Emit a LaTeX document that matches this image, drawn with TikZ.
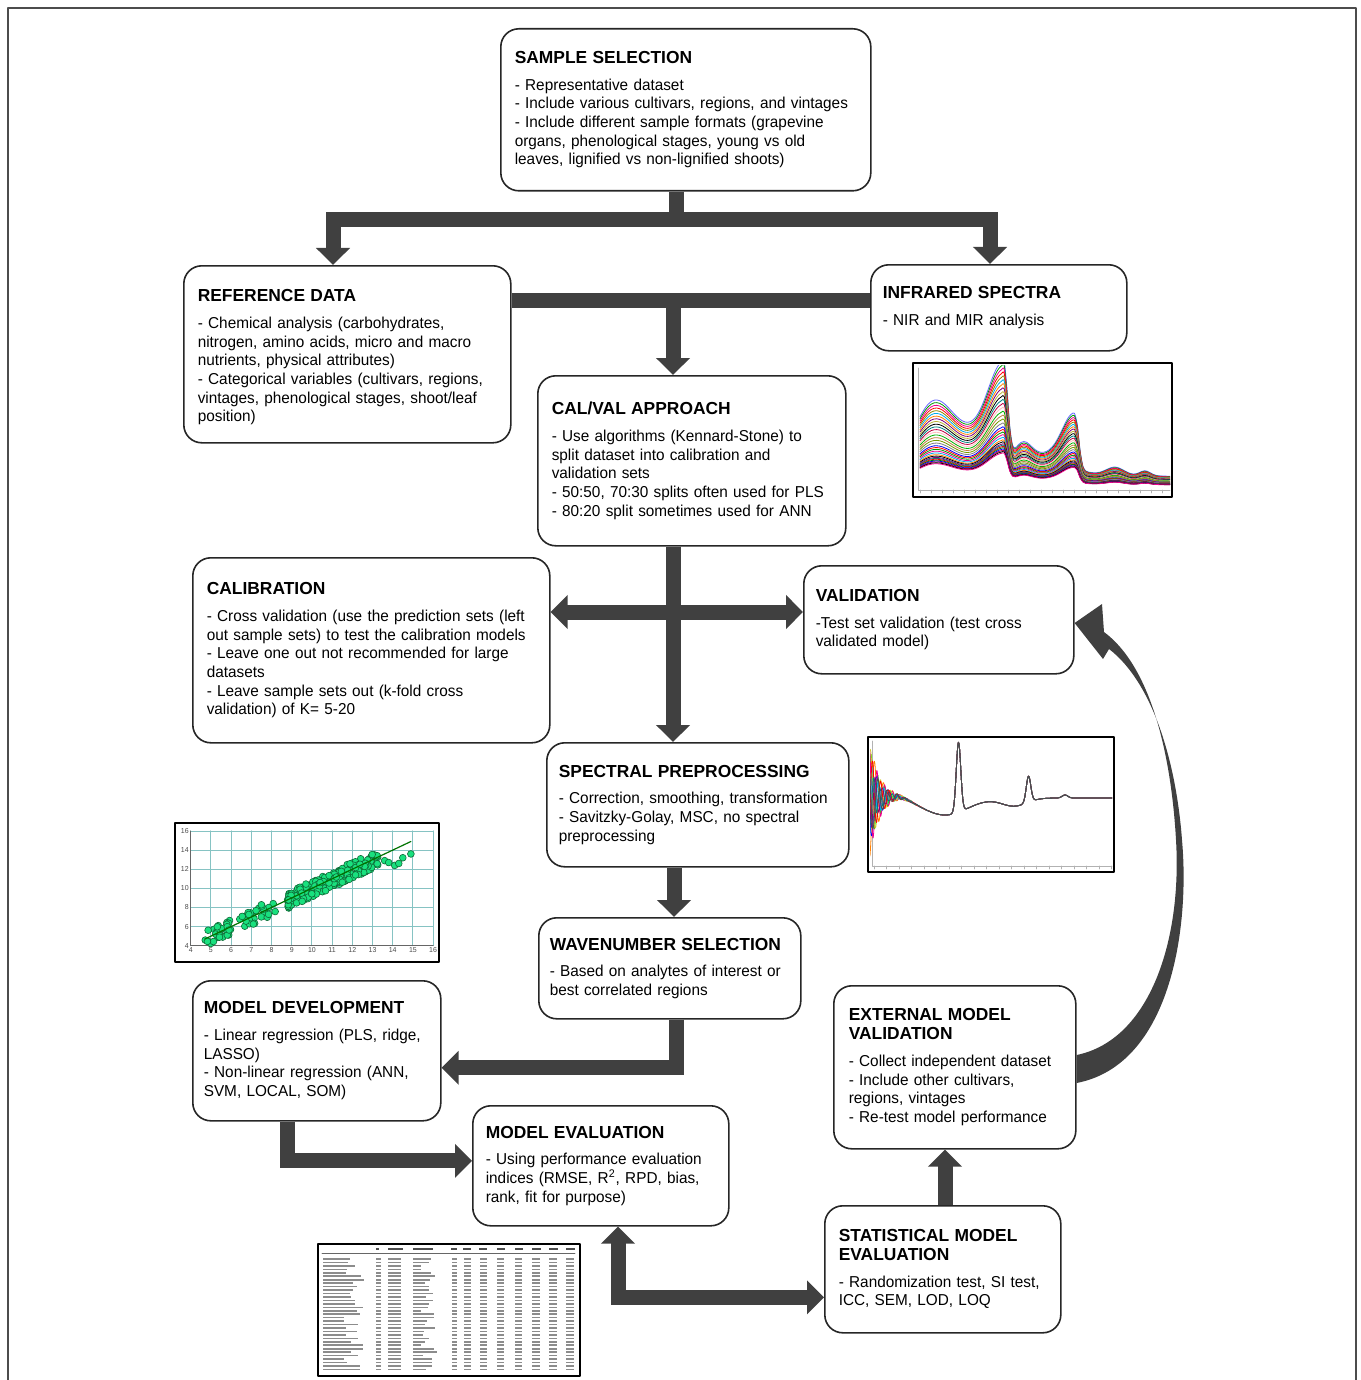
\documentclass[tikz,border=0pt]{standalone}
\usepackage{fontspec}
\setmainfont{Liberation Sans}[FakeStretch=0.97]
\newfontfamily\ttlfont{Liberation Sans}
\usetikzlibrary{arrows.meta,calc,backgrounds}
\definecolor{flowgray}{HTML}{404040}
\definecolor{gridteal}{HTML}{86C3C3}
\definecolor{dotgreen}{HTML}{19E07E}
\definecolor{dotedge}{HTML}{0E6A36}
\newcommand{\ttl}[1]{{\ttlfont\fontsize{8.7}{10}\selectfont\bfseries #1}}

\begin{document}
\begin{tikzpicture}[x=0.5pt, y=-0.5pt, line join=round, line cap=round,
  font=\fontsize{7.9}{9.35}\selectfont,
  stage/.style={draw=black!85, line width=0.8pt, rounded corners=9pt, fill=white,
    align=left, anchor=north west, inner xsep=7pt, inner ysep=0pt},
  bar/.style={draw=flowgray, line width=7.5pt, line cap=butt, line join=miter},
  flow/.style={bar, -{Triangle[width=16.5pt,length=8.5pt]}},
  flowtwo/.style={bar, {Triangle[width=16.5pt,length=8.5pt]}-{Triangle[width=16.5pt,length=8.5pt]}},
  pic/.style={draw=black, line width=1.4pt, fill=white},
  tiny/.style={font=\fontsize{3.6}{4}\selectfont, text=black!70, inner sep=0.8pt},
  dot/.style={fill=dotgreen, draw=dotedge, line width=0.3pt},
  tabink/.style={draw=black!45, line width=0.8pt, line cap=butt}]
\useasboundingbox (0,0) rectangle (1360,1380);
\draw[black!70, line width=0.8pt] (8,1380) -- (8,8) -- (1356,8) -- (1356,1380);

% stages
\node[stage, text width=171pt, minimum height=81pt] (ss) at (500,28)
  {\ttl{SAMPLE SELECTION}\\[4pt]
   - Representative dataset\\
   - Include various cultivars, regions, and vintages\\
   - Include different sample formats (grapevine\\
   organs, phenological stages, young vs old\\
   leaves, lignified vs non-lignified shoots)};
\node[stage, text width=149.5pt, minimum height=88.5pt] (ref) at (183,265)
  {\rule{0pt}{9.2pt}\ttl{REFERENCE DATA}\\[4pt]
   - Chemical analysis (carbohydrates,\\
   nitrogen, amino acids, micro and macro\\
   nutrients, physical attributes)\\
   - Categorical variables (cultivars, regions,\\
   vintages, phenological stages, shoot/leaf\\
   position)};
\node[stage, text width=116pt, minimum height=43pt, inner xsep=6pt] (ir) at (870,264)
  {\ttl{INFRARED SPECTRA}\\[4pt]
   - NIR and MIR analysis};
\node[stage, text width=140pt, minimum height=85pt] (cv) at (537,375)
  {\ttl{CAL/VAL APPROACH}\\[4pt]
   - Use algorithms (Kennard-Stone) to\\
   split dataset into calibration and\\
   validation sets\\
   - 50:50, 70:30 splits often used for PLS\\
   - 80:20 split sometimes used for ANN\\[7pt]};
\node[stage, text width=164.5pt, minimum height=92.5pt] (cal) at (192,557)
  {\ttl{CALIBRATION}\\[4pt]
   - Cross validation (use the prediction sets (left\\
   out sample sets) to test the calibration models\\
   - Leave one out not recommended for large\\
   datasets\\
   - Leave sample sets out (k-fold cross\\
   validation) of K= 5-20};
\node[stage, text width=123pt, minimum height=54pt, inner xsep=6pt] (val) at (803,565)
  {\ttl{VALIDATION}\\[4pt]
   -Test set validation (test cross\\
   validated model)\\[2pt]};
\node[stage, text width=139pt, minimum height=62pt, inner xsep=6pt] (spp) at (546,742)
  {\ttl{SPECTRAL PREPROCESSING}\\[4pt]
   - Correction, smoothing, transformation\\
   - Savitzky-Golay, MSC, no spectral\\
   preprocessing};
\node[stage, text width=120pt, minimum height=50.5pt, inner xsep=5.5pt] (wav) at (538,917)
  {\ttl{WAVENUMBER SELECTION}\\[4pt]
   - Based on analytes of interest or\\
   best correlated regions};
\node[stage, text width=113pt, minimum height=70pt, inner xsep=5.5pt] (md) at (192,980)
  {\ttl{MODEL DEVELOPMENT}\\[4pt]
   - Linear regression (PLS, ridge,\\
   LASSO)\\
   - Non-linear regression (ANN,\\
   SVM, LOCAL, SOM)\\[2pt]};
\node[stage, text width=115pt, minimum height=60pt, inner xsep=6.5pt] (me) at (472,1105)
  {\ttl{MODEL EVALUATION}\\[4pt]
   - Using performance evaluation\\
   indices (RMSE, R\textsuperscript{2}, RPD, bias,\\
   rank, fit for purpose)};
\node[stage, text width=106pt, minimum height=81.5pt, inner xsep=7.5pt] (ext) at (833,985)
  {\ttl{EXTERNAL MODEL}\\\ttl{VALIDATION}\\[4pt]
   - Collect independent dataset\\
   - Include other cultivars,\\
   regions, vintages\\
   - Re-test model performance};
\node[stage, text width=104pt, minimum height=63.5pt] (st) at (824,1205)
  {\ttl{STATISTICAL MODEL}\\\ttl{EVALUATION}\\[4pt]
   - Randomization test, SI test,\\
   ICC, SEM, LOD, LOQ};

% connectors
\begin{scope}[on background layer]
\coordinate (fork) at (676,220);
\draw[bar] (ss.south -| fork) -- (fork);
\draw[flow] (fork) -| ($(ref.north west)+(150,0)$);
\draw[flow] (fork) -| ($(ir.north west)+(120,0)$);
\coordinate (hub) at (673,300);
\draw[bar] (ref.east |- hub) -- (ir.west |- hub);
\draw[flow] (hub) -- (cv.north -| hub);
\coordinate (cross) at (673,612);
\draw[flow] (cv.south -| cross) -- (spp.north -| cross);
\draw[flowtwo] (cal.east |- cross) -- (val.west |- cross);
\draw[flow] ($(spp.south west)+(128,0)$) coordinate (s1) -- (wav.north -| s1);
\draw[flow] ($(wav.south west)+(138,0)$) |- ($(md.east)+(0,17)$);
\draw[flow] ($(md.south west)+(95,0)$) |- ($(me.west)+(0,-5)$);
\draw[flowtwo] ($(me.south west)+(146,0)$) |- ($(st.west)+(0,28)$);
\draw[flow] ($(st.north west)+(121,0)$) coordinate (s2) -- (ext.south -| s2);
\end{scope}
% back to validation
\fill[flowgray] (ext.east |- 0,1083) .. controls (1170,1065) and (1190,930) .. (1182,840)
  .. controls (1176,760) and (1152,682) .. (1109,649)
  -- (1103,659) -- (val.east |- 0,623) -- (1102,604) -- (1104,632)
  .. controls (1150,666) and (1171,752) .. (1176,840)
  .. controls (1182,940) and (1150,1040) .. (ext.east |- 0,1055) -- cycle;

% raw spectra
\draw[pic] (913,363) rectangle (1172,497);
\draw[black!30, line width=0.3pt] (918,368) -- (918,490) -- (1170,490);
\foreach \i in {0,...,22}{\draw[black!30, line width=0.3pt] ({920+11*\i},490) -- ++(0,3);}
\def\gsp{12+6*(1-\x)+65*exp(-((\x-0.05)/0.11)^2)+30*exp(-((\x-0.2)/0.12)^2)+100*exp(-((\x-0.335)/(\x<0.335?0.09:0.022))^2)+20*exp(-((\x-0.41)/0.05)^2)+18*exp(-((\x-0.5)/0.12)^2)+55*exp(-((\x-0.62)/(\x<0.62?0.07:0.02))^2)+8*exp(-((\x-0.78)/0.05)^2)+5*exp(-((\x-0.9)/0.03)^2)}
\begin{scope}
\clip (915,365) rectangle (1170,495);
\foreach \a/\c in {0.98/blue!60,0.95/green!60!black,0.92/magenta,0.89/red,0.86/olive,0.83/cyan,0.8/orange,0.77/violet,0.74/yellow!70!black,0.71/black,0.68/teal,0.65/purple,0.62/pink,0.59/green!70!black,0.56/brown,0.53/lime!60!black,0.5/gray,0.47/blue,0.45/red,0.43/green!60!black,0.41/magenta,0.39/cyan,0.37/orange,0.355/black,0.34/violet,0.33/teal,0.32/red,0.31/green!50!black,0.3/blue,0.29/purple,0.28/black,0.27/magenta}
  \draw[\c, line width=0.4pt, smooth, samples=90] plot[domain=0:1] ({920+250*\x},{488-\a*(\gsp)});
\end{scope}

% preprocessed spectra
\draw[pic] (868,737) rectangle (1114,872);
\draw[black!30, line width=0.3pt] (872,741) -- (872,866) -- (1112,866);
\foreach \i in {0,...,19}{\draw[black!30, line width=0.3pt] ({874+12.5*\i},866) -- ++(0,3);}
\def\dsp{798+\b*exp(-(\x-870)/10)*sin(\f*(\x-870)+\p)+17*exp(-((\x-945)/32)^2)-70*exp(-((\x-958.5)/3.2)^2)+8*exp(-((\x-1014)/18)^2)-26*exp(-((\x-1028.5)/3.2)^2)-3*exp(-((\x-1065)/4)^2)-3*exp(-((\x-900)/15)^2)}
\begin{scope}
\clip (870,739) rectangle (1112,870);
\foreach \b/\f/\p/\c in {58/40/90/orange,50/55/200/green,45/33/30/blue,55/47/300/magenta,40/62/120/cyan,52/36/250/yellow!80!black,35/50/10/violet,48/44/160/red,30/58/60/teal,42/38/330/black!70}
  \draw[\c, line width=0.4pt, smooth, samples=250] plot[domain=870:1112] (\x,{\dsp});
\end{scope}

% calibration plot
\draw[pic] (175,823) rectangle (439,962);
\begin{scope}[shift={(190.7,945.7)}, x=10.1pt, y=4.78pt]
\draw[gridteal, line width=0.5pt, xstep=1, ystep=2] (0,0) grid (12,12);
\draw[black!60, line width=0.4pt] (0,12) -- (0,0) -- (12,0);
\foreach \v in {4,...,16}{\node[tiny, below] (xt\v) at (\v-4,0) {\v};}
\foreach \v in {4,6,...,16}{\node[tiny, left] (yt\v) at (0,\v-4) {\v};}
\pgfmathsetseed{11}
\foreach \i in {1,...,60}{
  \pgfmathsetmacro\u{0.7+3.6*rnd}
  \pgfmathsetmacro\v{\u+0.9*rand}
  \filldraw[dot] (\u,\v) circle[radius=1.7pt];}
\foreach \i in {1,...,190}{
  \pgfmathsetmacro\u{4.8+4.5*rnd}
  \pgfmathsetmacro\v{\u+0.85*rand-0.1}
  \filldraw[dot] (\u,\v) circle[radius=1.7pt];}
\foreach \u/\v in {9.6/8.9,10.1/8.4,10.3/8.6,10.5/9.2,10.9/9.6,9.8/8.7}
  \filldraw[dot] (\u,\v) circle[radius=1.7pt];
\draw[green!45!black, line width=0.6pt] (0.7,0.7) -- (10.9,10.9);
\end{scope}

% results table
\draw[pic] (318,1244) rectangle (580,1376);
\foreach \cx/\cl in {376/3,388/15,413/20,451/6,463/8,479/8,497/8,515/8,532/9,549/9,566/9}
  \draw[draw=black!70, line width=0.8pt, line cap=butt] (\cx,1249) -- ++(\cl,0);
\draw[black!60, line width=0.4pt] (322,1253.5) -- (575,1253.5);
\foreach \r in {0,...,32}{
  \pgfmathsetmacro\ry{1259+3.45*\r}
  \pgfmathsetmacro\cw{20+22*rnd}
  \pgfmathsetmacro\pw{8+16*rnd}
  \draw[tabink] (323,\ry) -- ++(\cw,0);
  \draw[tabink] (413,\ry) -- ++(\pw,0);
  \foreach \cx/\cl in {376/5,388/13,452/5,464/7,480/7,497/7,515/7,532/8,549/8,566/8}
    \draw[tabink] (\cx,\ry) -- ++(\cl,0);
}
\end{tikzpicture}
\end{document}
